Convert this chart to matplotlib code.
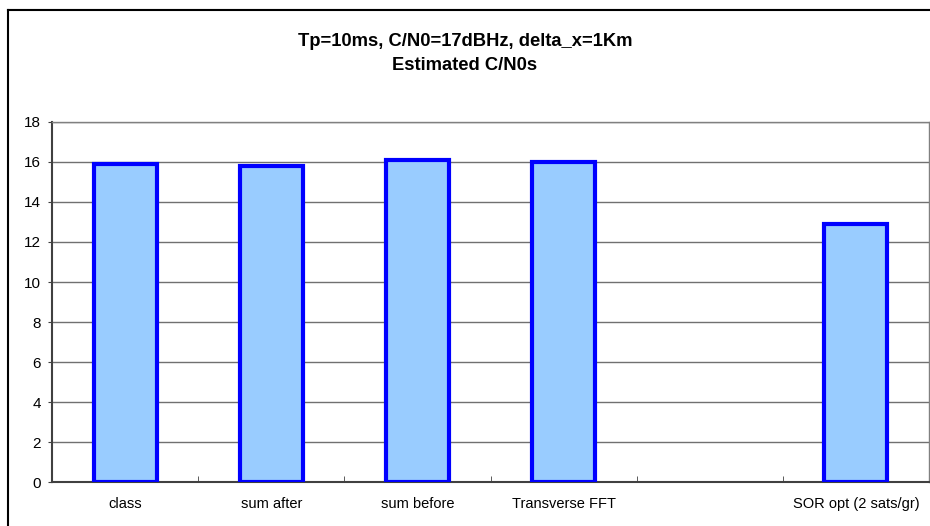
import numpy as np
import matplotlib
matplotlib.use("Agg")
import matplotlib.pyplot as plt
from matplotlib.lines import Line2D

plt.rcParams['font.family'] = ['Liberation Sans', 'DejaVu Sans']

categories = ["class", "sum after", "sum before", "Transverse FFT", "", "SOR opt (2 sats/gr)"]
cn0_estimates = [15.9, 15.8, 16.1, 16.0, None, 12.9]
y_ticks = [0, 2, 4, 6, 8, 10, 12, 14, 16, 18]
title = "Tp=10ms, C/N0=17dBHz, delta_x=1Km\nEstimated C/N0s"

W, H = 930, 526
fig = plt.figure(figsize=(W / 100, H / 100), dpi=100)
fig.patch.set_facecolor("white")

# outer chart frame
fx, fy = 8 / W, 1 - 10 / H
fig.add_artist(Line2D([fx, 1], [fy + 1.2 / H, fy + 1.2 / H], color="#b0b0b0", lw=0.8, transform=fig.transFigure))
fig.add_artist(Line2D([fx, 1], [fy, fy], color="black", lw=1.5, transform=fig.transFigure))
fig.add_artist(Line2D([fx, fx], [0, fy], color="black", lw=1.5, transform=fig.transFigure))

left, right = 52 / W, 929 / W
bottom, top = (H - 482) / H, (H - 122) / H
ax = fig.add_axes([left, bottom, right - left, top - bottom])

x = np.arange(len(categories))
idx = [i for i, v in enumerate(cn0_estimates) if v is not None]
vals = [cn0_estimates[i] for i in idx]
ax.bar(x[idx], vals, width=0.43, color="#99ccff", edgecolor="#0000ff", linewidth=3, zorder=3)

ax.set_xlim(-0.5, len(categories) - 0.5)
ax.set_ylim(0, 18)
ax.set_yticks(y_ticks)
ax.set_yticklabels([str(t) for t in y_ticks], fontsize=11)
ax.yaxis.grid(True, color="#707070", lw=1, zorder=0)
ax.set_axisbelow(True)

ax.set_xticks(x)
ax.set_xticklabels(categories, fontsize=10.5)
ax.tick_params(axis="x", length=0, pad=11)
ax.set_xticks(np.arange(0.5, len(categories) - 0.5), minor=True)
ax.tick_params(axis="x", which="minor", direction="in", length=4, color="#404040")
ax.tick_params(axis="y", direction="out", length=3, color="#404040", pad=5)

for s in ["left", "bottom"]:
    ax.spines[s].set_color("#404040")
    ax.spines[s].set_linewidth(1.5)
for s in ["top", "right"]:
    ax.spines[s].set_color("#808080")
    ax.spines[s].set_linewidth(1)

fig.text(0.5, 1 - 53.5 / H, title, ha="center", va="center", fontsize=13.2,
         fontweight="bold", linespacing=1.55)

fig.savefig("out.png", dpi=100)
